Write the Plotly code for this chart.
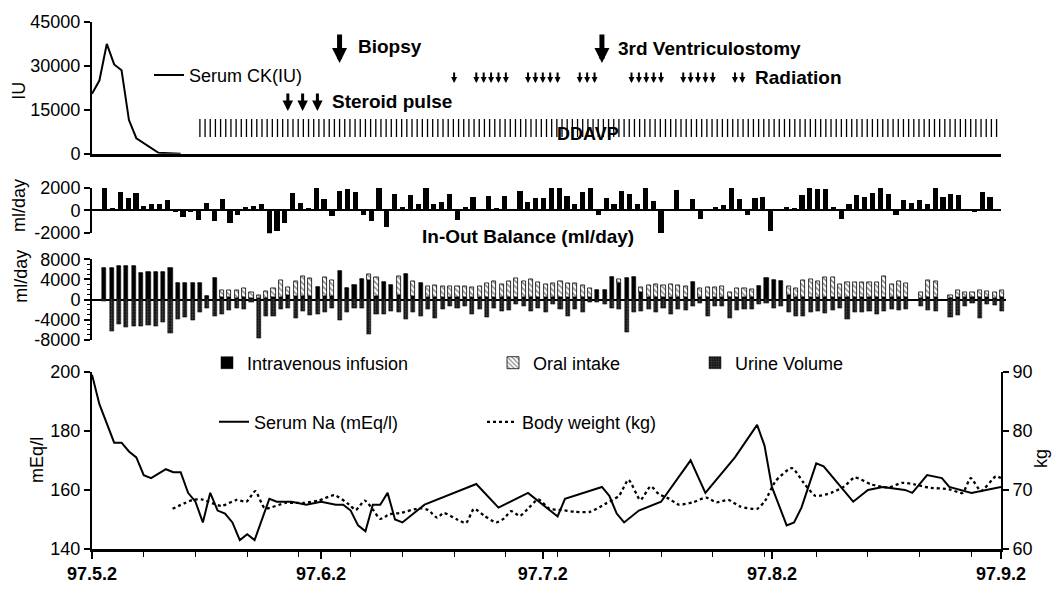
import plotly.graph_objects as go
import numpy as np

# ---------------- data ----------------
date_tick_days = [0, 31, 61, 92, 123]
date_tick_labels = ["97.5.2", "97.6.2", "97.7.2", "97.8.2", "97.9.2"]

ck_days = [0, 1, 2, 3, 4, 5, 6, 7, 9, 12]
ck_vals = [20500, 25000, 37500, 30500, 28500, 11500, 5300, 3600, 300, 0]
ck_ticks = [0, 15000, 30000, 45000]

biopsy_days = [33.5]
ventriculostomy_days = [69]
steroid_days = [26.5, 28.5, 30.5]
radiation_days = [49, 52, 53, 54, 55, 56, 59, 60, 61, 62, 63, 66, 67, 68,
                  73, 74, 75, 76, 77, 80, 81, 82, 83, 84, 87, 88]
ddavp_start, ddavp_end, ddavp_interval = 14.6, 123.0, 0.7

balance_vals = [2000, 200, 1630, 1090, 1570, 430, 570, 570, 940, -100,
                -510, -150, -770, 710, -940, 1060, -1090, -340, 340, 430,
                630, -2000, -1770, -1060, 1570, 710, 200, 2000, 1000, -430,
                1710, 1910, 1660, -370, -860, 2000, -1430, 1500,
                300, 1370, 570, 2000, 630, 800, 1430, -770, 370, 1200,
                50, 1290, 230, 1290, 30, 1710, 800, 1090, 1090, 2000,
                2000, 1290, 570, 1660, 2000, -340, 1090, 570, 1770, 1490,
                630, 2000, 860, -1910, 30, 1860, 30, 1000, -710,
                140, 290, 510, 2000, 1060, -370, 1090, 1230, -1800, 30,
                340, 200, 1370, 2000, 1940, 1940, 290, -710, 630, 1370,
                1230, 1570, 2000, 1430, -370, 940, 660, 910, 570, 2000,
                1230, 1430, 1370, 20, -30, 1660, 1200]
balance_ticks = [-2000, 0, 2000]

fluid_days = list(range(1, 124))
iv_vals = [6300, 6300, 6600, 6600, 6600, 5300, 5400, 5400, 5400, 6200,
           3250, 3250, 3250, 3250, 600, 4200, 500, 400, 300, 400,
           300, 200, 300, 500, 500, 800, 600, 700, 600, 2500,
           600, 600, 5600, 2200, 2800, 4100, 3800, 700, 3400, 2800,
           800, 5000, 700, 3300, 500, 500, 500, 500, 500, 500,
           500, 500, 500, 500, 500, 500, 500, 500, 500, 500,
           500, 500, 500, 500, 500, 500, 400, 1900, 1900, 4400,
           3300, 4300, 4400, 1500, 500, 500, 500, 500, 500, 500,
           3400, 500, 500, 500, 500, 400, 500, 500, 500, 2600,
           4300, 3900, 3600, 800, 500, 500, 500, 500, 500, 500,
           500, 500, 500, 500, 500, 500, 500, 500, 500, 500,
           None, 300, 500, 500, None, 300, 400, 400, 400, 400,
           400, 300, 400]
oral_vals = [0, 0, 0, 0, 0, 0, 0, 0, 0, 0,
             0, 0, 0, 0, 0, 0, 1300, 1400, 1500, 1800,
             1100, 700, 1300, 1800, 3300, 1700, 3000, 4000, 3600, 0,
             3800, 3300, 0, 0, 0, 0, 1300, 3700, 0, 0,
             3900, 0, 3000, 0, 2100, 2300, 2200, 2200, 2200, 2100,
             2000, 2100, 2700, 3200, 2600, 3200, 3700, 3200, 3600, 2900,
             2600, 2700, 3200, 2700, 2700, 2300, 1800, 0, 0, 0,
             800, 0, 0, 1000, 2300, 2600, 2300, 2600, 2300, 2100,
             0, 1700, 2000, 2000, 2100, 1100, 1700, 1800, 1500, 0,
             0, 0, 0, 1800, 1800, 3300, 3500, 3200, 3900, 3900,
             2600, 2900, 2900, 2900, 2900, 2900, 4200, 2600, 3100, 2800,
             None, 1100, 3300, 3100, None, 500, 1400, 1100, 1100, 1400,
             1300, 1100, 1400]
urine_vals = [-300, -6400, -5000, -5600, -5300, -5300, -5200, -5300, -4600, -6700,
              -4000, -3600, -4100, -2600, -1650, -3300, -2900, -2100, -1650, -2000,
              -600, -7700, -3300, -3400, -2000, -1650, -3700, -2300, -3200, -2900,
              -2600, -1800, -4100, -2500, -1650, -1800, -6900, -2900, -2900, -2300,
              -2500, -4000, -2500, -3300, -2000, -3800, -2000, -1300, -1650, -1300,
              -2900, -2000, -3600, -1650, -2300, -2100, -1000, -1300, -2300, -1650,
              -2500, -1000, -2000, -3400, -2000, -2500, -650, -650, -1000, -1650,
              -2000, -6500, -2600, -2300, -2000, -2500, -1800, -2900, -2000, -2100,
              -1300, -700, -3400, -1400, -1400, -3800, -2100, -1900, -1900, -900,
              -800, -1700, -1400, -2600, -3400, -3400, -2600, -2400, -2700, -2100,
              -1700, -4000, -2600, -2600, -2400, -3000, -2400, -1900, -2100, -1900,
              None, -1400, -2100, -2400, None, -3500, -3200, -1300, -800, -3700,
              -900, -1100, -2400]
fluid_ticks = [-8000, -4000, 0, 4000, 8000]

na_days = [0, 1, 3, 4, 5, 6, 7, 8, 10, 11, 12, 13, 14, 15, 16, 17, 18, 19, 20, 21,
           22, 24, 25, 27, 29, 31, 33, 34, 35, 36, 37, 38, 39, 40, 41, 42, 45, 52, 55, 59,
           63, 64, 69, 70, 71, 72, 74, 77, 81, 83, 87, 90, 91, 92, 94, 95, 96, 98, 99, 101,
           103, 105, 107, 110, 111, 113, 115, 116, 119, 123]
na_vals = [199, 189, 176, 176, 173, 171, 165, 164, 167, 166, 166, 159, 156, 149, 159, 153, 152, 149, 143, 145,
           143, 157, 156, 156, 155, 156, 155, 155, 153, 148, 146, 155, 155, 159, 150, 149, 155, 162, 154, 159,
           151, 157, 161, 158, 152, 149, 153, 156, 170, 159, 171, 182, 175, 161, 148, 149, 154, 169, 168, 162,
           156, 160, 161, 160, 159, 165, 164, 161, 159, 161]
na_ticks = [140, 160, 180, 200]

bw_days = [10.9, 13.6, 14.8, 17.5, 19.6, 20.9, 22.1, 23.4, 26.2, 28.7, 30.7, 32.8, 34.8, 35.7, 36.9,
           38.0, 39.0, 40.3, 41.7, 44.4, 45.5, 46.7, 47.6, 49.4, 50.6, 51.7, 53.1, 54.7, 55.8, 56.7,
           57.9, 58.9, 60.4, 61.9, 63.5, 65.3, 67.4, 69.4, 71.3, 72.6, 74.2, 75.6, 76.7, 78.1, 79.4,
           81.3, 83.1, 84.5, 86.1, 87.7, 90.0, 91.1, 92.5, 94.7, 96.3, 97.9, 100.0, 101.8, 103.2, 105.5,
           107.8, 109.6, 111.4, 113.2, 116.0, 117.8, 118.9, 120.3, 122.3, 123.0]
bw_vals = [66.8, 68.3, 68.4, 67.3, 68.3, 68.0, 69.8, 66.9, 67.8, 67.8, 68.2, 69.1, 67.5, 66.6, 68.2,
           66.7, 65.1, 65.9, 66.1, 66.9, 66.6, 65.3, 66.1, 65.0, 64.4, 66.8, 65.6, 64.5, 65.2, 66.4,
           65.6, 66.7, 68.4, 66.8, 66.6, 66.3, 66.3, 67.6, 69.0, 71.7, 68.3, 70.6, 69.3, 68.5, 67.5,
           67.9, 68.7, 67.9, 68.3, 67.2, 66.8, 68.2, 71.5, 73.7, 71.2, 69.0, 69.5, 70.6, 72.1, 70.9,
           70.4, 71.2, 70.9, 70.4, 70.1, 69.5, 72.0, 69.8, 72.3, 72.0]
bw_ticks = [60, 70, 80, 90]

# ---------------- geometry helpers ----------------
FONT = "Liberation Sans, Arial, Helvetica, sans-serif"
L, R, T, B = 92, 1006, 15, 559
W, H = R - L, B - T
AXIS_END = 1001


def px2x(px):
    return (px - L) / W


def px2y(py):
    return (B - py) / H


date_dom = [0, px2x(AXIS_END)]

# balance bars: entry index axis
bal_first_px, bal_step_px = 104.7, 7.835
bal_left = -(bal_first_px - L) / bal_step_px
bal_range = [bal_left, bal_left + (AXIS_END - L) / bal_step_px]
balance_idx = list(range(len(balance_vals)))

# fluid bars: day axis
fl_first_px, fl_step_px = 104.3, 7.358
fl_left = fluid_days[0] - (fl_first_px - L) / fl_step_px
fl_range = [fl_left, fl_left + W / fl_step_px]

ddavp_days = list(np.arange(ddavp_start, ddavp_end, ddavp_interval))

fig = go.Figure()

# top panel
fig.add_trace(go.Scatter(x=ck_days, y=ck_vals, mode="lines", name="Serum CK(IU)",
                         line=dict(color="black", width=2), xaxis="x", yaxis="y", legend="legend"))
fig.add_trace(go.Scatter(x=ddavp_days, y=[8800] * len(ddavp_days), mode="markers", showlegend=False,
                         marker=dict(symbol="line-ns", size=13, line=dict(color="black", width=1.3)),
                         xaxis="x", yaxis="y", hoverinfo="skip"))

# balance panel
fig.add_trace(go.Bar(x=balance_idx, y=balance_vals, marker=dict(color="black", line=dict(width=0)),
                     width=0.66, showlegend=False, xaxis="x2", yaxis="y2", cliponaxis=False))

# fluid panel
fig.add_trace(go.Bar(x=fluid_days, y=iv_vals, name="Intravenous infusion", width=0.56,
                     marker=dict(color="black", line=dict(color="black", width=0.5)),
                     xaxis="x3", yaxis="y3", legend="legend2", cliponaxis=False))
fig.add_trace(go.Bar(x=fluid_days, y=oral_vals, name="Oral intake", width=0.56,
                     marker=dict(color="white", line=dict(color="black", width=0.8),
                                 pattern=dict(shape="\\", fgcolor="black", bgcolor="white",
                                              size=4, solidity=0.35)),
                     xaxis="x3", yaxis="y3", legend="legend3", cliponaxis=False))
fig.add_trace(go.Bar(x=fluid_days, y=urine_vals, name="Urine Volume", width=0.56,
                     marker=dict(color="#1a1a1a", line=dict(color="#000000", width=0.5),
                                 pattern=dict(shape=".", fgcolor="#8a8a8a", bgcolor="#1a1a1a",
                                              size=3, solidity=0.2)),
                     xaxis="x3", yaxis="y3", legend="legend4", cliponaxis=False))

# bottom panel
fig.add_trace(go.Scatter(x=na_days, y=na_vals, mode="lines", name="Serum Na (mEq/l)",
                         line=dict(color="black", width=2), xaxis="x4", yaxis="y4",
                         legend="legend5", cliponaxis=False))
fig.add_trace(go.Scatter(x=bw_days, y=bw_vals, mode="lines", name="Body weight (kg)",
                         line=dict(color="black", width=2.3, dash="dot", shape="spline", smoothing=0.6),
                         xaxis="x4", yaxis="y5", legend="legend6"))

axis_common = dict(showgrid=False, zeroline=False, color="black", linecolor="black",
                   tickfont=dict(size=18, family=FONT, color="black"))


def ylin(dom, rng, ticks, **kw):
    d = dict(axis_common)
    d.update(domain=dom, range=rng, tickvals=ticks, ticktext=[str(t) for t in ticks],
             showline=True, linewidth=2, ticks="outside", ticklen=6, tickwidth=1.8, tickcolor="black")
    d.update(kw)
    return d


dom_top = [px2y(151), px2y(15)]
dom_bal = [px2y(233), px2y(186)]
dom_fl = [px2y(343), px2y(260)]
dom_bot = [px2y(559), px2y(376)]

fig.update_layout(
    width=1057, height=596,
    margin=dict(l=L, r=1057 - R, t=T, b=596 - B),
    paper_bgcolor="white", plot_bgcolor="white",
    font=dict(family=FONT, size=18, color="black"),
    barmode="relative", bargap=0,
    xaxis=dict(axis_common, domain=date_dom, range=[0, 123], anchor="y", showline=True,
               linewidth=2.5, ticks="", showticklabels=False),
    yaxis=ylin(dom_top, [0, 45000], ck_ticks, anchor="x"),
    xaxis2=dict(axis_common, domain=date_dom, range=bal_range, anchor="y2", visible=False),
    yaxis2=ylin(dom_bal, [-2000, 2000], balance_ticks, anchor="x2", zeroline=True,
                zerolinecolor="black", zerolinewidth=2),
    xaxis3=dict(axis_common, domain=[0, 1], range=fl_range, anchor="y3", visible=False),
    yaxis3=ylin(dom_fl, [-8000, 8000], fluid_ticks, anchor="x3", zeroline=True,
                zerolinecolor="black", zerolinewidth=2,
                minor=dict(dtick=1000, ticks="outside", ticklen=3, tickcolor="black", tickwidth=1, showgrid=False)),
    xaxis4=dict(axis_common, domain=date_dom, range=[0, 123], anchor="y4", showline=True,
                linewidth=2.5, ticks="outside", ticklen=7, tickwidth=2, tickcolor="black",
                tickvals=date_tick_days, ticktext=["<b>%s</b>" % s for s in date_tick_labels],
                tickfont=dict(size=18, family=FONT, color="black"),
                minor=dict(tick0=0, dtick=7, ticks="outside", ticklen=5, tickwidth=1.2,
                           tickcolor="black", showgrid=False)),
    yaxis4=ylin(dom_bot, [140, 200], na_ticks, anchor="x4"),
    yaxis5=ylin(dom_bot, [60, 90], bw_ticks, anchor="x4", overlaying="y4", side="right"),
)


def leg(xpx, ypx):
    return dict(x=px2x(xpx), y=px2y(ypx), xanchor="left", yanchor="middle",
                bgcolor="rgba(0,0,0,0)", borderwidth=0, orientation="v",
                font=dict(size=18, family=FONT, color="black"))


fig.update_layout(
    legend=leg(149, 70),
    legend2=leg(207, 367),
    legend3=leg(493, 367),
    legend4=leg(695, 367),
    legend5=leg(214, 428),
    legend6=leg(482, 428),
)

ann = []
# event arrows on top panel (tip value in IU units, length in px)
for d in biopsy_days + ventriculostomy_days:
    ann.append(dict(x=d, y=31000, xref="x", yref="y", ax=0, ay=-30, text="", showarrow=True,
                    arrowhead=2, arrowwidth=5, arrowsize=0.6, arrowcolor="black"))
for d in steroid_days:
    ann.append(dict(x=d, y=14600, xref="x", yref="y", ax=0, ay=-19, text="", showarrow=True,
                    arrowhead=2, arrowwidth=3, arrowsize=0.7, arrowcolor="black"))
for d in radiation_days:
    ann.append(dict(x=d, y=24200, xref="x", yref="y", ax=0, ay=-12, text="", showarrow=True,
                    arrowhead=2, arrowwidth=2, arrowsize=0.6, arrowcolor="black"))


def label(text, xpx, ypx, size=19, bold=True, anchor="left"):
    ann.append(dict(text=("<b>%s</b>" % text) if bold else text, x=px2x(xpx), y=px2y(ypx),
                    xref="paper", yref="paper", xanchor=anchor, yanchor="middle",
                    showarrow=False, font=dict(size=size, family=FONT, color="black")))


label("Biopsy", 356, 40)
label("3rd Ventriculostomy", 616, 42)
label("Radiation", 753, 72)
label("Steroid pulse", 330, 97)
label("DDAVP", 555, 131, size=18)
label("In-Out Balance (ml/day)", 420, 236, size=19)


def ytitle(text, xpx, ypx, angle=-90):
    ann.append(dict(text=text, x=px2x(xpx), y=px2y(ypx), xref="paper", yref="paper",
                    xanchor="center", yanchor="middle", textangle=angle, showarrow=False,
                    font=dict(size=18, family=FONT, color="black")))


ytitle("IU", 19, 86)
ytitle("ml/day", 19, 205)
ytitle("ml/day", 21, 278)
ytitle("mEq/l", 37, 467)
ytitle("kg", 1041, 466)

fig.update_layout(annotations=ann)

fig.write_html("out.html")
